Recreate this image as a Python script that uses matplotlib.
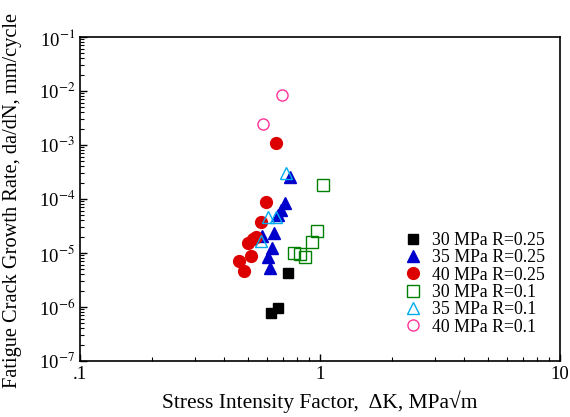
import numpy as np
import matplotlib
matplotlib.use("Agg")
import matplotlib.pyplot as plt
from matplotlib.ticker import FixedLocator, LogLocator, NullFormatter

plt.rcParams['font.family'] = ['Liberation Serif', 'DejaVu Serif']
plt.rcParams['mathtext.fontset'] = 'stix'

# delta K (MPa sqrt m), da/dN (mm/cycle)
dk_30_025 = [0.738, 0.670, 0.623]
rate_30_025 = [4.3e-6, 9.4e-7, 7.6e-7]

dk_35_025 = [0.752, 0.715, 0.690, 0.670, 0.643, 0.573, 0.629, 0.610, 0.619]
rate_35_025 = [2.6e-4, 8.3e-5, 6.2e-5, 5.0e-5, 2.3e-5, 2.1e-5, 1.22e-5, 8.5e-6, 5.2e-6]

dk_40_025 = [0.656, 0.596, 0.568, 0.541, 0.500, 0.515, 0.458, 0.482, 0.525]
rate_40_025 = [1.10e-3, 8.7e-5, 3.7e-5, 2.0e-5, 1.51e-5, 8.8e-6, 7.1e-6, 4.6e-6, 1.8e-5]

dk_30_01 = [1.026, 0.975, 0.926, 0.777, 0.825, 0.866]
rate_30_01 = [1.82e-4, 2.6e-5, 1.6e-5, 1.01e-5, 9.6e-6, 8.3e-6]

dk_35_01 = [0.720, 0.605, 0.656, 0.568]
rate_35_01 = [3.0e-4, 4.6e-5, 4.6e-5, 1.69e-5]

dk_40_01 = [0.692, 0.577]
rate_40_01 = [8.4e-3, 2.45e-3]

fig = plt.figure(figsize=(5.7, 4.17), dpi=100)
ax = fig.add_axes([80 / 570, 1 - 361 / 417, 480 / 570, 324 / 417])

ax.plot(dk_30_025, rate_30_025, 's', color='black', ms=7, ls='none', label='30 MPa R=0.25')
ax.plot(dk_35_025, rate_35_025, '^', color='#0000CC', ms=8.5, ls='none', label='35 MPa R=0.25')
ax.plot(dk_40_025, rate_40_025, 'o', color='#DD0000', ms=8.5, ls='none', label='40 MPa R=0.25')
ax.plot(dk_30_01, rate_30_01, 's', mfc='none', mec='#008000', mew=1.0, ms=8, ls='none',
        label='30 MPa R=0.1')
ax.plot(dk_35_01, rate_35_01, '^', mfc='none', mec='#00AAEE', mew=1.0, ms=8.5, ls='none',
        label='35 MPa R=0.1')
ax.plot(dk_40_01, rate_40_01, 'o', mfc='none', mec='#FF3399', mew=1.0, ms=8, ls='none',
        label='40 MPa R=0.1')

ax.set_xscale('log')
ax.set_yscale('log')
ax.set_xlim(0.1, 10)
ax.set_ylim(1e-7, 1e-1)

ax.xaxis.set_major_locator(FixedLocator([0.1, 1, 10]))
ax.set_xticklabels(['.1', '1', '10'])
ax.xaxis.set_minor_locator(LogLocator(base=10, subs=np.arange(2, 10)))
ax.xaxis.set_minor_formatter(NullFormatter())
yt = [10.0 ** e for e in range(-7, 0)]
ax.yaxis.set_major_locator(FixedLocator(yt))
ax.set_yticklabels(['10$^{%d}$' % e for e in range(-7, 0)])
ax.yaxis.set_minor_locator(LogLocator(base=10, subs=np.arange(2, 10)))
ax.yaxis.set_minor_formatter(NullFormatter())

ax.tick_params(which='both', direction='in', top=False, right=False, labelsize=13.5)
ax.tick_params(which='major', length=5, width=1)
ax.tick_params(which='minor', length=3, width=0.8)
for s in ax.spines.values():
    s.set_linewidth(1.2)

ax.set_xlabel('Stress Intensity Factor,  \u0394K, MPa\u221am', fontsize=15.5, va='center')
ax.set_ylabel('Fatigue Crack Growth Rate, da/dN, mm/cycle', fontsize=14.7, va='center')
ax.xaxis.set_label_coords(0.5, -0.127)
ax.yaxis.set_label_coords(-0.14, 0.494)

ax.legend(loc='lower right', bbox_to_anchor=(0.995, 0.04), frameon=False, fontsize=12.8,
          handletextpad=0.45, labelspacing=0.02, handlelength=1.2, borderpad=0.2)

fig.savefig('out.png', dpi=100)
